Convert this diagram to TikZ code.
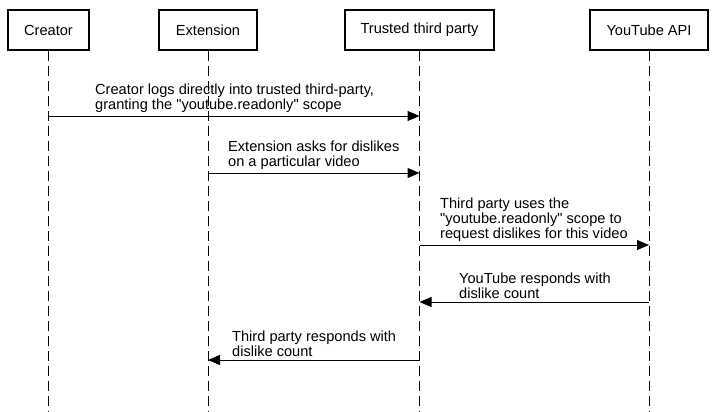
\documentclass[tikz,border=0pt]{standalone}
\usepackage{fontspec}
\setmainfont{Liberation Sans}
\usetikzlibrary{arrows.meta, positioning}

\begin{document}
\begin{tikzpicture}[x=1pt, y=-1pt, >={Triangle[length=12pt,width=10pt]},
    actor/.style={rectangle, draw, line width=2.2pt, minimum height=40pt, inner sep=0pt},
    lifeline/.style={line width=0.9pt, dash pattern=on 10pt off 5pt},
    msg/.style={->, line width=1pt},
    msgtext/.style={anchor=south west, align=left, inner sep=0pt}]
    \fontsize{14.6}{15}\selectfont
\useasboundingbox (0,0) rectangle (715,412);

% Actors
\node[actor, minimum width=81pt] (creator) at (48.5,30) {Creator};
\node[actor, minimum width=98pt] (extension) at (208,30) {Extension};
\node[actor, minimum width=149pt] (trusted) at (419.5,30) {Trusted third party};
\node[actor, minimum width=118pt] (youtube) at (649,30) {YouTube API};

% Lifelines
\coordinate (bottom) at (0,412);
\draw[lifeline] (creator.south) -- (creator |- bottom);
\draw[lifeline] (extension.south) -- (extension |- bottom);
\draw[lifeline] (trusted.south) -- (trusted |- bottom);
\draw[lifeline] (youtube.south) -- (youtube |- bottom);

% Message rows
\coordinate (m1) at (0,116);
\coordinate (m2) at (0,173);
\coordinate (m3) at (0,245);
\coordinate (m4) at (0,302);
\coordinate (m5) at (0,360);

% Messages
\draw[msg] (creator |- m1) -- (trusted |- m1);
\node[msgtext] (t1) at (95,113) {Creator logs directly into trusted third-party,\\granting the \textquotedbl youtube.readonly\textquotedbl{} scope};

\draw[msg] (extension |- m2) -- (trusted |- m2);
\node[msgtext] (t2) at (228,170) {Extension asks for dislikes\\on a particular video};

\draw[msg] (trusted |- m3) -- (youtube |- m3);
\node[msgtext] (t3) at (440,242) {Third party uses the\\\textquotedbl youtube.readonly\textquotedbl{} scope to\\request dislikes for this video};

\draw[msg] (youtube |- m4) -- (trusted |- m4);
\node[msgtext] (t4) at (459,299) {YouTube responds with\\dislike count};

\draw[msg] (trusted |- m5) -- (extension |- m5);
\node[msgtext] (t5) at (232,357) {Third party responds with\\dislike count};

\end{tikzpicture}
\end{document}
